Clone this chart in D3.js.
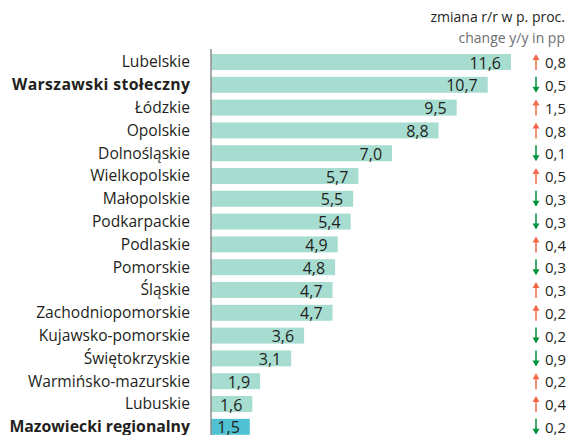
<!DOCTYPE html>
<html><head><meta charset="utf-8">
<script src="https://cdn.jsdelivr.net/npm/d3@7"></script>
<style>body{margin:0;background:#fff}svg{display:block}</style>
</head><body>
<script>
const regions = ["Lubelskie","Warszawski stołeczny","Łódzkie","Opolskie","Dolnośląskie","Wielkopolskie","Małopolskie","Podkarpackie","Podlaskie","Pomorskie","Śląskie","Zachodniopomorskie","Kujawsko-pomorskie","Świętokrzyskie","Warmińsko-mazurskie","Lubuskie","Mazowiecki regionalny"];
const values = [11.6,10.7,9.5,8.8,7.0,5.7,5.5,5.4,4.9,4.8,4.7,4.7,3.6,3.1,1.9,1.6,1.5];
const changes = [0.8,-0.5,1.5,0.8,-0.1,0.5,-0.3,-0.3,0.4,-0.3,0.3,0.2,-0.2,-0.9,0.2,0.4,-0.2];
const boldRegions = ["Warszawski stołeczny","Mazowiecki regionalny"];
const highlight = ["Mazowiecki regionalny"];
const headerLines = ["zmiana r/r w p. proc.","change y/y in pp"];

const W=570,H=435;
const font='"Open Sans", "Noto Sans", sans-serif';
const fmt = v => d3.format(".1f")(Math.abs(v)).replace(".",",");
const svg=d3.select("body").append("svg").attr("width",W).attr("height",H).style("font-family",font);

const x=d3.scaleLinear().domain([0,11.6]).range([211,511]);
const y=d3.scaleBand().domain(regions).range([50.6,438.2]).paddingInner(0.3).paddingOuter(0.15);

svg.selectAll("rect.bar").data(regions).join("rect")
  .attr("x",x(0)).attr("y",d=>y(d)).attr("height",y.bandwidth())
  .attr("width",(d,i)=>x(values[i])-x(0))
  .attr("fill",d=>highlight.includes(d)?"#4fc1d2":"#a7dcd0");

svg.append("line").attr("x1",211).attr("x2",211).attr("y1",49).attr("y2",H).attr("stroke","#8c8c8c").attr("stroke-width",1.5);

svg.selectAll("text.lab").data(regions).join("text")
  .attr("x",190).attr("y",d=>y(d)+y.bandwidth()/2).attr("dy","0.35em")
  .attr("text-anchor","end").attr("font-size",d=>boldRegions.includes(d)?15.8:15.6)
  .attr("font-weight",d=>boldRegions.includes(d)?"bold":"normal")
  .attr("textLength",d=>d==="Warszawski stołeczny"?178:null)
  .attr("fill","#231f20").text(d=>d);

svg.selectAll("text.val").data(regions).join("text")
  .attr("x",(d,i)=>x(values[i])-10).attr("y",d=>y(d)+y.bandwidth()/2+1).attr("dy","0.35em")
  .attr("text-anchor","end").attr("font-size",16).attr("fill","#231f20")
  .text((d,i)=>fmt(values[i]));

const ax=536;
regions.forEach((r,i)=>{
  const c=y(r)+y.bandwidth()/2;
  const up=changes[i]>0;
  const col=up?"#f26a4b":"#00923f";
  const top=c-8,bot=c+8;
  const g=svg.append("g");
  if(up){
    g.append("line").attr("x1",ax).attr("x2",ax).attr("y1",top+4).attr("y2",bot).attr("stroke",col).attr("stroke-width",1.5);
    g.append("path").attr("d",`M${ax-3.5},${top+6}L${ax},${top}L${ax+3.5},${top+6}Z`).attr("fill",col);
  } else {
    g.append("line").attr("x1",ax).attr("x2",ax).attr("y1",top).attr("y2",bot-4).attr("stroke",col).attr("stroke-width",1.5);
    g.append("path").attr("d",`M${ax-3.5},${bot-6}L${ax},${bot}L${ax+3.5},${bot-6}Z`).attr("fill",col);
  }
  svg.append("text").attr("x",545).attr("y",c+1).attr("dy","0.35em").attr("font-size",15).attr("fill","#231f20").text(fmt(changes[i]));
});

svg.append("text").attr("x",565).attr("y",22).attr("text-anchor","end").attr("font-size",14).attr("fill","#231f20").text(headerLines[0]);
svg.append("text").attr("x",565).attr("y",43).attr("text-anchor","end").attr("font-size",14).attr("fill","#6d6e71").text(headerLines[1]);
</script>
</body></html>
